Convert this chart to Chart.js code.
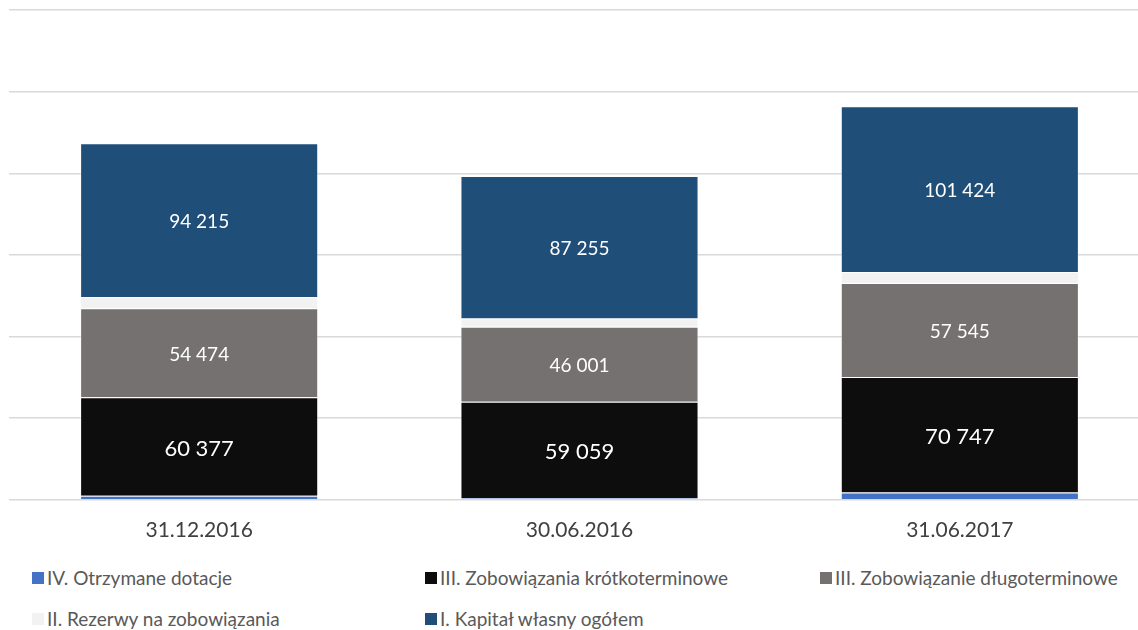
<!DOCTYPE html>
<html>
<head>
<meta charset="utf-8">
<script src="https://cdn.jsdelivr.net/npm/chart.js@4"></script>
<style>
  body { margin: 0; background: #fff; font-family: Lato, "Open Sans", sans-serif; overflow: hidden; }
  #wrap { position: relative; width: 1150px; height: 553px; }
  .legend { position: absolute; left: 0; top: 556px; width: 1138px; color: #595959; font-size: 19px; }
  .legend .item { position: absolute; display: flex; align-items: center; white-space: nowrap; }
  .legend .box { width: 12px; height: 12px; margin-right: 3px; }
</style>
</head>
<body>
<div id="wrap"><canvas id="barChart"></canvas></div>
<div class="legend" id="legend"></div>
<script>
// dane z wykresu
var categories = ['31.12.2016', '30.06.2016', '31.06.2017'];
var dotacje = [2500, 1000, 4500];
var zobKrotko = [60377, 59059, 70747];
var zobDlugo = [54474, 46001, 57545];
var rezerwy = [6800, 5000, 6800];
var kapital = [94215, 87255, 101424];
var yTicks = [0, 50000, 100000, 150000, 200000, 250000, 300000];

var seriesNames = ['IV. Otrzymane dotacje', 'III. Zobowiązania krótkoterminowe', 'III. Zobowiązanie długoterminowe',
                   'II. Rezerwy na zobowiązania', 'I. Kapitał własny ogółem'];
var colors = ['#4472c4', '#0d0d0d', '#767171', '#f2f2f2', '#1f4e79'];
var showLabels = [false, true, true, false, true];
var labelSize = [0, 22, 19, 0, 19];

function fmt(v) {
    return String(v).replace(/\B(?=(\d{3})+(?!\d))/g, ' ');
}

// etykiety wartosci na segmentach
var valueLabels = {
    id: 'valueLabels',
    afterDatasetsDraw: function(chart) {
        var ctx = chart.ctx;
        chart.data.datasets.forEach(function(ds, i) {
            if (!showLabels[i]) return;
            var meta = chart.getDatasetMeta(i);
            meta.data.forEach(function(bar, j) {
                var mid = (bar.y + bar.base) / 2;
                ctx.save();
                ctx.fillStyle = '#ffffff';
                ctx.font = labelSize[i] + 'px Lato, "Open Sans", sans-serif';
                ctx.textAlign = 'center';
                ctx.textBaseline = 'middle';
                ctx.fillText(fmt(ds.data[j]), bar.x, mid + 2);
                ctx.restore();
            });
        });
    }
};

var data = [dotacje, zobKrotko, zobDlugo, rezerwy, kapital];
var ctx = document.getElementById('barChart').getContext('2d');
var barChart = new Chart(ctx, {
    type: 'bar',
    data: {
        labels: categories,
        datasets: data.map(function(d, i) {
            return {
                label: seriesNames[i],
                data: d,
                backgroundColor: colors[i],
                borderColor: 'rgba(255,255,255,0.45)',
                borderWidth: 1,
                categoryPercentage: 1,
                barPercentage: 0.626
            };
        })
    },
    options: {
        responsive: true,
        maintainAspectRatio: false,
        animation: false,
        layout: { padding: { left: 9, top: 10, right: 0 } },
        plugins: {
            legend: { display: false },
            tooltip: { enabled: false }
        },
        scales: {
            x: {
                stacked: true,
                grid: { display: false },
                border: { display: false },
                ticks: { color: '#404040', font: { size: 21, family: 'Lato, "Open Sans", sans-serif' }, padding: 10 }
            },
            y: {
                stacked: true,
                min: 0,
                max: 300000,
                afterBuildTicks: function(axis) {
                    axis.ticks = yTicks.map(function(v) { return { value: v }; });
                },
                grid: { color: '#d9d9d9', lineWidth: 1.5, drawTicks: false },
                border: { display: false },
                ticks: { display: false }
            }
        }
    },
    plugins: [valueLabels]
});

// legenda w HTML
var pos = [[32, 22], [425, 22], [820, 22], [32, 63], [425, 63]];
var legend = document.getElementById('legend');
seriesNames.forEach(function(name, i) {
    var el = document.createElement('div');
    el.className = 'item';
    el.style.left = pos[i][0] + 'px';
    el.style.top = (pos[i][1] - 12) + 'px';
    el.innerHTML = '<span class="box" style="background:' + colors[i] + '"></span><span>' + name + '</span>';
    legend.appendChild(el);
});
</script>
</body>
</html>
